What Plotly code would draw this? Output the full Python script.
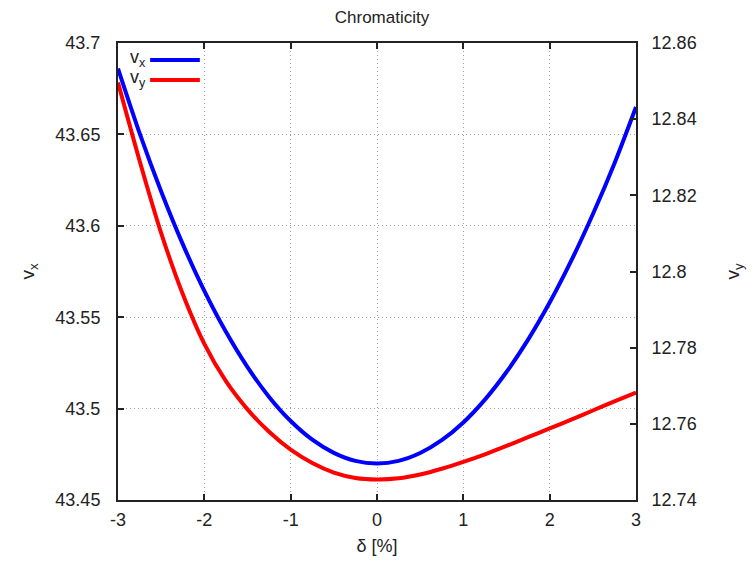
import plotly.graph_objects as go

delta = [-3.0, -2.75, -2.5, -2.25, -2.0, -1.75, -1.5, -1.25, -1.0, -0.75, -0.5, -0.25,
         0.0, 0.25, 0.5, 0.75, 1.0, 1.25, 1.5, 1.75, 2.0, 2.25, 2.5, 2.75, 3.0]
nu_x = [43.686, 43.6507, 43.6188, 43.590, 43.5644, 43.542, 43.5227, 43.5064, 43.4932, 43.483,
        43.4758, 43.4714, 43.470, 43.4714, 43.4757, 43.4827, 43.4924, 43.5049, 43.520, 43.5377,
        43.558, 43.5809, 43.6063, 43.6341, 43.6650]
nu_y = [12.8496, 12.8291, 12.8101, 12.7941, 12.7810, 12.7712, 12.7638, 12.7579, 12.7532, 12.7497,
        12.7472, 12.7458, 12.7454, 12.7457, 12.7467, 12.7482, 12.750, 12.752, 12.7542,
        12.7565, 12.7588, 12.7611, 12.7635, 12.7659, 12.7682]

x_ticks = [-3, -2, -1, 0, 1, 2, 3]
x_ticktext = ['-3', '-2', '-1', '0', '1', '2', '3']

font = 'Liberation Sans, Arial, sans-serif'
ink = '#222222'

fig = go.Figure()
fig.add_trace(go.Scatter(x=delta, y=nu_x, mode='lines', name='v<sub>x</sub>',
                         line=dict(color='#0000ff', width=4, shape='spline', smoothing=0.8),
                         showlegend=False))
fig.add_trace(go.Scatter(x=delta, y=nu_y, mode='lines', name='v<sub>y</sub>', yaxis='y2',
                         line=dict(color='#ff0000', width=4, shape='spline', smoothing=0.8),
                         showlegend=False))

# gnuplot-style key: text on the left, line sample on the right
for i, (label, color) in enumerate([('v<sub>x</sub>', '#0000ff'), ('v<sub>y</sub>', '#ff0000')]):
    yk = 0.963 - i * 0.044
    fig.add_annotation(x=0.058, y=yk + 0.004, xref='paper', yref='paper', text=label,
                       showarrow=False, xanchor='right', yanchor='middle',
                       font=dict(size=18, color=ink, family=font))
    fig.add_shape(type='line', xref='paper', yref='paper', x0=0.062, x1=0.158,
                  y0=yk, y1=yk, line=dict(color=color, width=4))

axis_common = dict(showline=True, linecolor=ink, linewidth=2, ticks='inside',
                   ticklen=6, tickwidth=2, tickcolor=ink, zeroline=False, automargin=False,
                   tickfont=dict(size=18, color=ink, family=font))
grid = dict(showgrid=True, gridcolor='#a0a0a0', griddash='1px,3px', gridwidth=1)

# page body has an 8px margin, so the figure is 8px smaller than the window
fig.update_layout(
    width=748, height=554,
    margin=dict(l=110, r=120, t=35, b=62),
    paper_bgcolor='white', plot_bgcolor='white',
    title=dict(text='Chromaticity', x=0.5, xanchor='center', y=0.984, yanchor='middle',
               font=dict(size=17, color=ink, family=font)),
    xaxis=dict(range=[-3, 3], tickvals=x_ticks, ticktext=x_ticktext, mirror='ticks',
               ticklabelstandoff=2,
               title=dict(text='δ [%]', font=dict(size=18, color=ink, family=font),
                          standoff=11),
               **grid, **axis_common),
    yaxis=dict(range=[43.45, 43.7], dtick=0.05, ticklabelstandoff=12,
               title=dict(text='v<sub>x</sub>', font=dict(size=19, color=ink, family=font),
                          standoff=16),
               **grid, **axis_common),
    yaxis2=dict(range=[12.74, 12.86], dtick=0.02, overlaying='y', side='right',
                showgrid=False, ticklabelstandoff=10,
                title=dict(text='v<sub>y</sub>', font=dict(size=19, color=ink, family=font),
                           standoff=30),
                **axis_common),
)

fig.write_html("out.html")
